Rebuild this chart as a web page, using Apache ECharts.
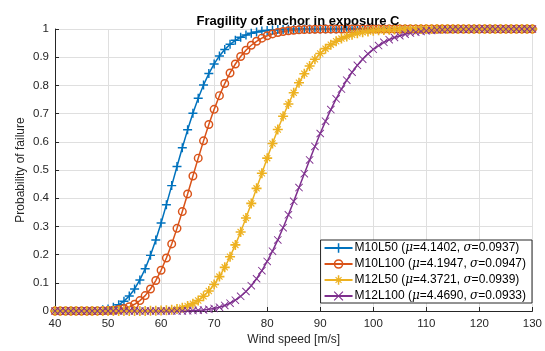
<!DOCTYPE html>
<html>
<head>
<meta charset="utf-8">
<script src="https://cdn.jsdelivr.net/npm/echarts@6/dist/echarts.min.js"></script>
<style>html,body{margin:0;padding:0;background:#fff}#c{width:545px;height:351px}</style>
</head>
<body>
<div id="c"></div>
<script>
var windSpeed = [40,41,42,43,44,45,46,47,48,49,50,51,52,53,54,55,56,57,58,59,60,61,62,63,64,65,66,67,68,69,70,71,72,73,74,75,76,77,78,79,80,81,82,83,84,85,86,87,88,89,90,91,92,93,94,95,96,97,98,99,100,101,102,103,104,105,106,107,108,109,110,111,112,113,114,115,116,117,118,119,120,121,122,123,124,125,126,127,128,129,130];

var seriesNames = ['M10L50', 'M10L100', 'M12L50', 'M12L100'];
var muLabels = ['4.1402', '4.1947', '4.3721', '4.4690'];
var sigmaLabels = ['0.0937', '0.0947', '0.0939', '0.0933'];

var pM10L50 = [0,0,0,0,0.0001,0.0002,0.0004,0.001,0.0021,0.004,0.0074,0.0131,0.0219,0.0349,0.0533,0.0781,0.1102,0.1499,0.1973,0.2518,0.3123,0.3771,0.4446,0.5125,0.579,0.6424,0.7012,0.7544,0.8013,0.8419,0.8761,0.9044,0.9274,0.9456,0.9598,0.9708,0.979,0.9851,0.9896,0.9928,0.9951,0.9967,0.9978,0.9985,0.999,0.9994,0.9996,0.9997,0.9998,0.9999,1,1,1,1,1,1,1,1,1,1,1,1,1,1,1,1,1,1,1,1,1,1,1,1,1,1,1,1,1,1,1,1,1,1,1,1,1,1,1,1,1];

var pM10L100 = [0,0,0,0,0,0,0.0001,0.0001,0.0003,0.0007,0.0014,0.0028,0.0051,0.0089,0.0149,0.0239,0.0369,0.0546,0.0781,0.108,0.1446,0.188,0.2378,0.293,0.3526,0.4151,0.4788,0.542,0.6033,0.6613,0.715,0.7636,0.8066,0.844,0.8759,0.9026,0.9246,0.9423,0.9564,0.9675,0.976,0.9825,0.9874,0.991,0.9937,0.9956,0.9969,0.9979,0.9986,0.999,0.9994,0.9996,0.9997,0.9998,0.9999,0.9999,1,1,1,1,1,1,1,1,1,1,1,1,1,1,1,1,1,1,1,1,1,1,1,1,1,1,1,1,1,1,1,1,1,1,1];

var pM12L50 = [0,0,0,0,0,0,0,0,0,0,0,0,0,0,0,0.0001,0.0001,0.0002,0.0005,0.0009,0.0016,0.0027,0.0045,0.0074,0.0116,0.0176,0.026,0.0373,0.0521,0.0708,0.094,0.1219,0.1547,0.1923,0.2344,0.2804,0.3298,0.3816,0.4349,0.4887,0.5421,0.5941,0.6438,0.6907,0.7341,0.7738,0.8095,0.8411,0.8688,0.8927,0.9131,0.9303,0.9445,0.9563,0.9659,0.9736,0.9797,0.9845,0.9883,0.9912,0.9935,0.9952,0.9965,0.9974,0.9981,0.9987,0.999,0.9993,0.9995,0.9997,0.9998,0.9998,0.9999,0.9999,1,1,1,1,1,1,1,1,1,1,1,1,1,1,1,1,1];

var pM12L100 = [0,0,0,0,0,0,0,0,0,0,0,0,0,0,0,0,0,0,0,0,0,0.0001,0.0001,0.0002,0.0004,0.0008,0.0014,0.0023,0.0038,0.0059,0.0091,0.0135,0.0196,0.0278,0.0385,0.0522,0.0692,0.0898,0.1144,0.143,0.1756,0.2121,0.2522,0.2954,0.3412,0.3888,0.4376,0.4868,0.5356,0.5834,0.6294,0.6732,0.7142,0.7523,0.7871,0.8185,0.8466,0.8714,0.8931,0.9118,0.9278,0.9413,0.9527,0.9622,0.9699,0.9763,0.9814,0.9855,0.9888,0.9914,0.9934,0.995,0.9963,0.9972,0.9979,0.9984,0.9989,0.9992,0.9994,0.9996,0.9997,0.9998,0.9998,0.9999,0.9999,0.9999,0.9999,1,1,1,1];

var xTicks = [40,50,60,70,80,90,100,110,120,130];
var yTicks = [0,0.1,0.2,0.3,0.4,0.5,0.6,0.7,0.8,0.9,1];

var allValues = [pM10L50, pM10L100, pM12L50, pM12L100];
var colors = ['#0072BD', '#D95319', '#EDB120', '#7E2F8E'];
var PLUS = 'M4.2,0H5.8V10H4.2ZM0,4.2H10V5.8H0Z';
var CROSS = 'M0,0.8L0.8,0L10,9.2L9.2,10ZM9.2,0L10,0.8L0.8,10L0,9.2Z';
var CROSS_S = 'M1.5,2.3L2.3,1.5L8.5,7.7L7.7,8.5ZM7.7,1.5L8.5,2.3L2.3,8.5L1.5,7.7Z';
var RING = 'M5,0A5,5,0,1,1,5,10A5,5,0,1,1,5,0ZM5,1.6A3.4,3.4,0,1,0,5,8.4A3.4,3.4,0,1,0,5,1.6Z';
var symbols = ['path://' + PLUS, 'path://' + RING, 'path://' + PLUS + CROSS_S, 'path://' + CROSS];
var sizes = [9, 9, 10, 8];

var FONT = 'Liberation Sans, Arial, Helvetica, sans-serif';
var TXT = '#262626';

var series = allValues.map(function (vals, k) {
  return {
    name: seriesNames[k],
    type: 'line',
    data: windSpeed.map(function (x, i) { return [x, vals[i]]; }),
    symbol: symbols[k],
    symbolSize: sizes[k],
    showAllSymbol: true,
    clip: false,
    lineStyle: { color: colors[k], width: 1.5 },
    itemStyle: { color: colors[k] },
    emphasis: { disabled: true },
    animation: false
  };
});

var chart = echarts.init(document.getElementById('c'), null, { renderer: 'canvas' });
chart.setOption({
  animation: false,
  backgroundColor: '#ffffff',
  color: colors,
  title: {
    text: 'Fragility of anchor in exposure C',
    left: 293,
    textAlign: 'center',
    top: 10,
    textStyle: { fontFamily: FONT, fontSize: 13, fontWeight: 'bold', color: '#000' }
  },
  grid: { left: 55, right: 12, top: 29, bottom: 37 },
  xAxis: {
    type: 'value', min: xTicks[0], max: xTicks[xTicks.length - 1], interval: 10,
    name: 'Wind speed [m/s]', nameLocation: 'middle', nameGap: 23,
    nameMoveOverlap: false,
    nameTextStyle: { fontFamily: FONT, fontSize: 12, color: TXT },
    axisLine: { show: true, lineStyle: { color: TXT, width: 1 } },
    axisTick: { show: true, inside: true, length: 4, lineStyle: { color: TXT } },
    axisLabel: { fontFamily: FONT, fontSize: 11.5, color: TXT, margin: 7 },
    splitLine: { show: true, lineStyle: { color: '#dfdfdf', width: 1 } }
  },
  yAxis: {
    type: 'value', min: yTicks[0], max: yTicks[yTicks.length - 1], interval: 0.1,
    name: 'Probability of failure', nameLocation: 'middle', nameGap: 28,
    nameMoveOverlap: false,
    nameTextStyle: { fontFamily: FONT, fontSize: 12, color: TXT },
    axisLine: { show: true, lineStyle: { color: TXT, width: 1 } },
    axisTick: { show: true, inside: true, length: 4, lineStyle: { color: TXT } },
    axisLabel: { fontFamily: FONT, fontSize: 11.5, color: TXT, margin: 6,
      formatter: function (v) { return String(+v.toFixed(1)); } },
    splitLine: { show: true, lineStyle: { color: '#dfdfdf', width: 1 } }
  },
  legend: {
    orient: 'vertical',
    right: 13,
    top: 240,
    backgroundColor: '#fff',
    borderColor: TXT,
    borderWidth: 1,
    borderRadius: 0,
    padding: [2, 6, 1, 3],
    itemGap: 4,
    itemWidth: 28,
    itemHeight: 12,
    data: seriesNames,
    formatter: function (name) {
      var k = seriesNames.indexOf(name);
      return '{a|' + name + ' (}{i|\u03bc}{a|=' + muLabels[k] + ', }{i|\u03c3}{a|=' + sigmaLabels[k] + ')}';
    },
    textStyle: {
      fontFamily: FONT, fontSize: 12, color: '#000', padding: [0, 0, 0, -3],
      rich: {
        a: { fontFamily: FONT, fontSize: 12, color: '#000' },
        i: { fontFamily: 'DejaVu Serif, serif', fontStyle: 'italic', fontSize: 12, color: '#000' }
      }
    }
  },
  series: series
});
</script>
</body>
</html>
